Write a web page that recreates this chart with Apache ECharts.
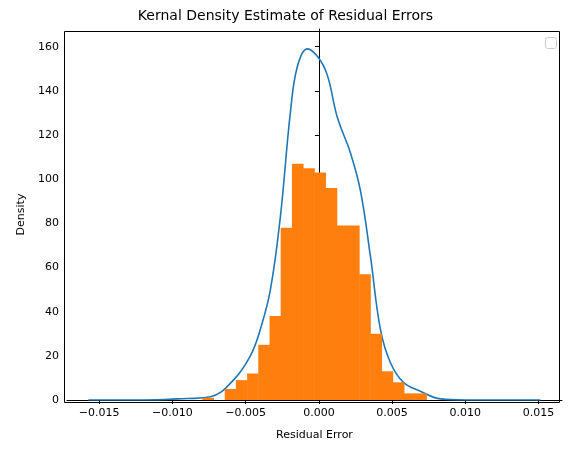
<!DOCTYPE html>
<html>
<head>
<meta charset="utf-8">
<script src="https://cdn.jsdelivr.net/npm/echarts@6/dist/echarts.min.js"></script>
<style>html,body{margin:0;padding:0;background:#fff}#main{width:571px;height:453px}</style>
</head>
<body>
<div id="main"></div>
<script>
// histogram bins (left edges + final right edge) and densities
var binEdges = [-0.00796,-0.00720,-0.00643,-0.00567,-0.00490,-0.00414,-0.00337,-0.00261,-0.00184,-0.00108,-0.00031,0.00045,0.00122,0.00198,0.00275,0.00351,0.00428,0.00504,0.00581,0.00657,0.00734];
var binHeights = [1,0,5,9,12,25,38,78,107,105,103,96,79,79,57,30,13,8,3,3];
// KDE curve
var kdeX = [-0.01575,-0.01200,-0.00967,-0.00741,-0.00584,-0.00468,-0.00400,-0.00331,-0.00263,-0.00195,-0.00147,-0.00079,-0.00003,0.00058,0.00126,0.00215,0.00283,0.00352,0.00420,0.00488,0.00577,0.00693,0.00830,0.01000,0.01513];
var kdeY = [0,0,0.5,1.5,9,20,32,50,83,130,151,159,155,147,128,112,95,65,32,17,8,4,0.5,0,0];
var xTicks = [-0.015,-0.010,-0.005,0.000,0.005,0.010,0.015];

var chart = echarts.init(document.getElementById('main'));
var bars = [];
for (var i = 0; i < binHeights.length; i++) bars.push([binEdges[i], binEdges[i+1], binHeights[i]]);
var curve = kdeX.map(function (x, i) { return [x, kdeY[i]]; });
var font = 'DejaVu Sans';
function fmt(v) {
  var s = Math.abs(v).toFixed(3);
  return (v < 0 ? '\u2212' : '') + s;
}
chart.setOption({
  animation: false,
  title: {text: 'Kernal Density Estimate of Residual Errors', left: 'center', top: 4,
    textStyle: {fontFamily: font, fontSize: 14, fontWeight: 'normal', color: '#000'}},
  grid: {left: 67, right: 9, top: 29, bottom: 53},
  xAxis: {
    type: 'value', min: -0.0172, max: 0.0166,
    name: 'Residual Error', nameLocation: 'middle', nameGap: 30,
    nameTextStyle: {fontFamily: font, fontSize: 11, color: '#000'},
    splitLine: {show: false},
    axisLine: {lineStyle: {color: '#000'}},
    axisTick: {show: true, inside: false, length: 4, customValues: xTicks, lineStyle: {color: '#000'}},
    axisLabel: {customValues: xTicks, formatter: fmt, fontFamily: font, fontSize: 11, color: '#000'}
  },
  yAxis: {
    type: 'value', min: 0, max: 168, interval: 20,
    name: 'Density', nameLocation: 'middle', nameGap: 40,
    nameTextStyle: {fontFamily: font, fontSize: 11, color: '#000'},
    splitLine: {show: false},
    axisLine: {show: true, lineStyle: {color: '#000'}},
    axisTick: {show: true, length: 4, lineStyle: {color: '#000'}},
    axisLabel: {fontFamily: font, fontSize: 11, color: '#000', showMaxLabel: false}
  },
  graphic: [
    {type: 'rect', right: 9, top: 29, shape: {width: 495, height: 371}, style: {fill: 'none', stroke: '#000', lineWidth: 1}, silent: true},
    {type: 'rect', right: 14, top: 37, shape: {width: 11, height: 11, r: 2}, style: {fill: '#fff', stroke: '#ccc', lineWidth: 1}}
  ],
  series: [
    {
      type: 'line', data: curve, smooth: 0.4, showSymbol: false, z: 3,
      lineStyle: {color: '#1f77b4', width: 1.6}
    },
    {
      type: 'custom', z: 4, data: bars,
      renderItem: function (params, api) {
        var p0 = api.coord([api.value(0), api.value(2)]);
        var p1 = api.coord([api.value(1), 0]);
        return {type: 'rect', shape: {x: p0[0], y: p0[1], width: p1[0] - p0[0] + 0.5, height: p1[1] - p0[1]},
          style: {fill: '#ff7f0e'}};
      }
    }
  ]
});
</script>
</body>
</html>
